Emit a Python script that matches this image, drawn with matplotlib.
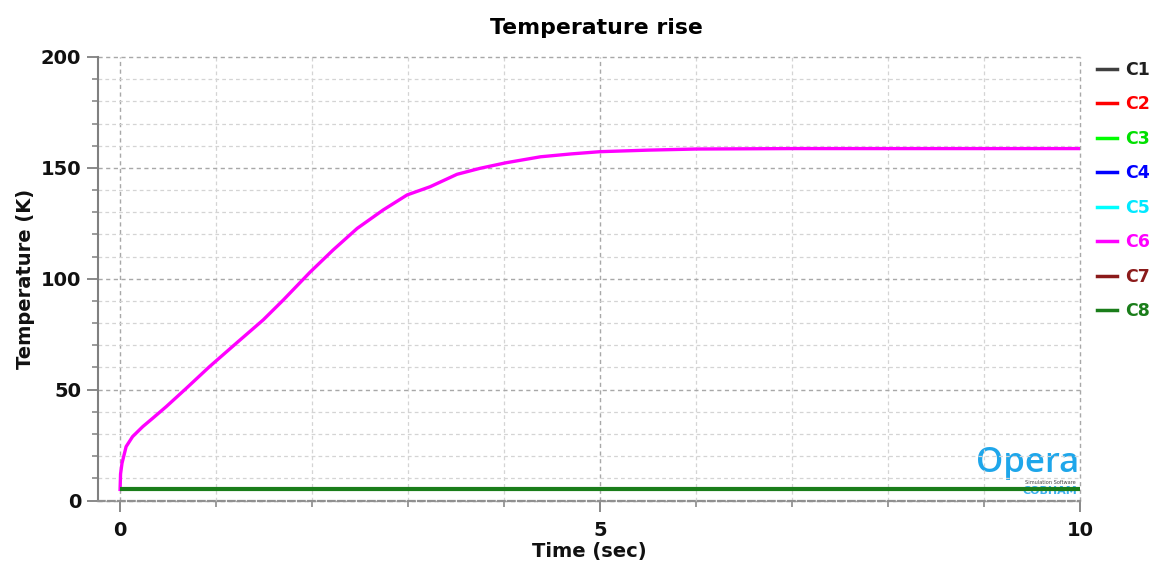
import matplotlib
matplotlib.use("Agg")
import matplotlib.pyplot as plt
from matplotlib.lines import Line2D

# Time samples (s) and temperature rise of each channel (K)
time_c6 = [0, 0.005, 0.02, 0.063, 0.13, 0.236, 0.34, 0.48, 0.69, 0.93, 1.21,
           1.49, 1.70, 1.98, 2.22, 2.47, 2.74, 2.99, 3.23, 3.51, 3.75, 4.02,
           4.38, 4.7, 5.0, 5.5, 6.0, 7.0, 8.0, 9.0, 10.0]
temp_c6 = [5, 12, 16.8, 24.3, 28.8, 33.3, 37.1, 42.3, 50.6, 60.3, 70.9,
           81.4, 90.4, 103, 113, 122.7, 131, 137.8, 141.5, 147.1, 149.8, 152.3,
           155, 156.3, 157.3, 158.0, 158.5, 158.7, 158.7, 158.7, 158.7]
time_flat = [0, 10]
temp_flat = [5, 5]

channels = ["C1", "C2", "C3", "C4", "C5", "C6", "C7", "C8"]
colors = ["#404040", "#ff0000", "#00ff00", "#0000ff", "#00ffff", "#ff00ff",
          "#8b1a1a", "#1a7d1a"]
text_colors = ["#202020", "#ff0000", "#00e000", "#0000ff", "#00e8ff", "#ff00ff",
               "#8b1a1a", "#1a7d1a"]

x_major = [0, 5, 10]
y_major = [0, 50, 100, 150, 200]

W, H = 1158, 566
fig = plt.figure(figsize=(W / 100, H / 100), dpi=100)
ax = fig.add_axes([98 / W, 1 - 500.5 / H, (1080 - 98) / W, (500.5 - 57) / H])

# Flat channels first, magenta above, then the thick green on top
for name, col in zip(channels, colors):
    if name == "C6":
        continue
    lw = 3.0 if name == "C8" else 2.0
    z = 4 if name == "C8" else 3
    ax.plot(time_flat, temp_flat, color=col, lw=lw, zorder=z, solid_capstyle="butt")
ax.plot(time_c6, temp_c6, color="#ff00ff", lw=2.4, zorder=3.5)

ax.set_xlim(-0.23, 10)
ax.set_ylim(0, 200)
ax.set_xticks(x_major)
ax.set_xticks(range(0, 11), minor=True)
ax.set_yticks(y_major)
ax.set_yticks(range(0, 201, 10), minor=True)

ax.grid(which="major", color="#a8a8a8", linestyle=(0, (3, 2.5)), linewidth=1.0)
ax.grid(which="minor", color="#d4d4d4", linestyle=(0, (3, 2.5)), linewidth=0.9)
for axis in (ax.xaxis, ax.yaxis):
    for t in axis.get_major_ticks() + axis.get_minor_ticks():
        t.gridline.set_clip_on(False)

for s in ("top", "right"):
    ax.spines[s].set_visible(False)
ax.spines["left"].set_color("#808080")
ax.spines["left"].set_linewidth(1.5)
ax.spines["bottom"].set_color("#909090")
ax.spines["bottom"].set_linewidth(1.6)
ax.spines["bottom"].set_linestyle((0, (3, 1.5)))

ax.tick_params(axis="both", which="major", length=8, width=1.3, color="#808080",
               labelsize=14, pad=4)
ax.tick_params(axis="x", which="major", pad=7)
ax.tick_params(axis="both", which="minor", length=4.5, width=1.1, color="#808080")
for lab in ax.get_xticklabels() + ax.get_yticklabels():
    lab.set_fontweight("bold")
    lab.set_color("#111111")

ax.set_xlabel("Time (sec)", fontsize=14, fontweight="bold", color="#111111", labelpad=1)
ax.set_ylabel("Temperature (K)", fontsize=14, fontweight="bold", color="#111111", labelpad=4)

fig.text(596.5 / W, 1 - 28 / H, "Temperature rise", ha="center", va="center",
         fontsize=15.8, fontweight="bold", color="#000000")

# Logo
ax.text(1079 / W, 1 - 463 / H, "Opera", transform=fig.transFigure, ha="right",
        va="center", fontsize=25, family="Open Sans", fontweight="semibold",
        color="#1ea6ea", zorder=1)
ax.text(1076 / W, 1 - 482.5 / H, "Simulation Software", transform=fig.transFigure,
        ha="right", va="center", fontsize=3.6, color="#444444", zorder=1)
ax.text(1077 / W, 1 - 491 / H, "COBHAM", transform=fig.transFigure,
        ha="right", va="center", fontsize=8, fontweight="bold", color="#3ab0ee", zorder=1)

handles = [Line2D([], [], color=c, lw=2.5) for c in colors]
leg = fig.legend(handles, channels, loc="upper left",
                 bbox_to_anchor=(1097 / W, 1 - 61 / H), frameon=False,
                 fontsize=12.5, handlelength=1.15, handletextpad=0.45,
                 labelspacing=0.95, borderaxespad=0, borderpad=0)
for txt, c in zip(leg.get_texts(), text_colors):
    txt.set_color(c)
    txt.set_fontweight("bold")

fig.savefig("out.png", dpi=100)
